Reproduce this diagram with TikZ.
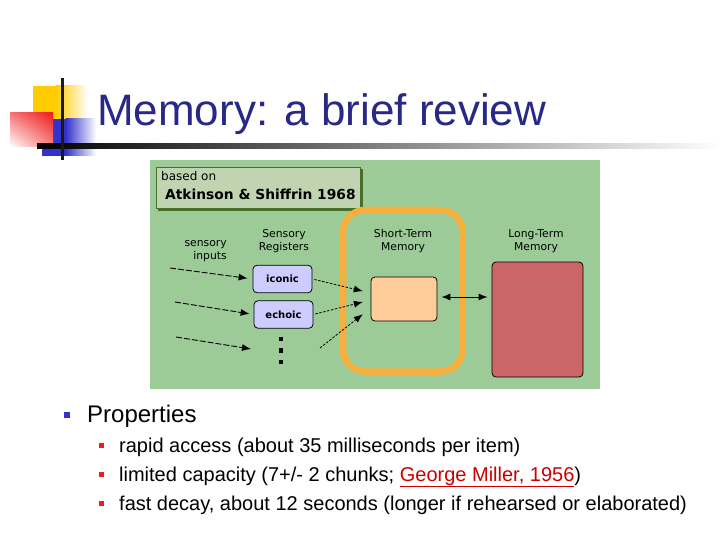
\documentclass[tikz,border=0pt]{standalone}
\usepackage{fontspec}
\setmainfont{Liberation Sans}
\newfontfamily\diagfont{DejaVu Sans}
\usetikzlibrary{arrows.meta,shadings}
\definecolor{ycol}{RGB}{255,204,0}
\definecolor{bcol}{RGB}{51,51,204}
\definecolor{rcol}{RGB}{238,30,30}
\definecolor{titlecol}{RGB}{40,40,135}
\definecolor{panelcol}{RGB}{156,203,152}
\definecolor{boxdark}{RGB}{72,110,40}
\definecolor{checkcol}{RGB}{192,212,178}
\definecolor{orangecol}{RGB}{245,175,60}
\definecolor{regcol}{RGB}{204,204,255}
\definecolor{stmcol}{RGB}{255,204,153}
\definecolor{ltmcol}{RGB}{204,102,102}
\definecolor{linkcol}{RGB}{204,0,0}
\begin{document}
\begin{tikzpicture}[x=1pt,y=-1pt,
  regbox/.style={draw=black, fill=regcol, rounded corners=4pt, line width=0.8pt, inner sep=0pt,
    minimum width=59pt, minimum height=27.5pt, font=\diagfont\bfseries\fontsize{10}{12}\selectfont},
  memlbl/.style={inner sep=0pt, align=center, font=\diagfont\fontsize{10.8}{12.5}\selectfont},
  tip/.style={-{Latex[length=9pt,width=7pt]}},
  inarrow/.style={tip, line width=0.9pt, dash pattern=on 6pt off 2pt},
  toarrow/.style={tip, line width=0.8pt, dash pattern=on 2.5pt off 1.5pt},
  bul/.style={inner sep=0pt, anchor=base west, font=\fontsize{20}{20}\selectfont},
  subsq/.style={fill=rcol, minimum size=5pt, inner sep=0pt}]
\useasboundingbox (0,0) rectangle (720,540);
% decoration
\fill[ycol] (33,86) rectangle (56,119);
\shade[left color=ycol, right color=white] (55.5,86) rectangle (88,119);
\fill[bcol] (42,119) rectangle (66,156);
\shade[left color=bcol, right color=white] (65.5,119) rectangle (96,156);
\shade[upper left=rcol!60!white, upper right=rcol, lower left=white, lower right=rcol!55!white] (10,113) rectangle (53,147);
\shade[left color=black, right color=white] (37,144) rectangle (720,148.5);
\fill[black!90] (60.8,78) rectangle (63.5,160);
% title
\node[anchor=base west, inner sep=0pt, text=titlecol, font=\fontsize{44}{44}\selectfont] (title) at (97,126) {Memory: a brief review};
% panel
\node[fill=panelcol, minimum width=450pt, minimum height=229pt, anchor=north west, inner sep=0pt] (panel) at (150,160) {};
\fill[boxdark] (158,169) rectangle (362.5,211);
\node[draw=boxdark, line width=1.2pt, fill=checkcol, anchor=north west, minimum width=204pt, minimum height=41pt, inner sep=0pt] (based) at (156,167) {};
\node[anchor=base west, inner sep=0pt, font=\diagfont\fontsize{12}{12}\selectfont] (basedon) at (161,181) {based on};
\node[anchor=base west, inner sep=0pt, font=\diagfont\bfseries\fontsize{13.8}{14}\selectfont] (atk) at (165,200) {Atkinson \& Shiffrin 1968};
% labels
\node[memlbl, align=right, anchor=east] (inlbl) at (227,251) {sensory\\inputs};
\node[memlbl] (reglbl) at (284,241) {Sensory\\Registers};
\node[memlbl] (stmlbl) at (403,241) {Short-Term\\Memory};
\node[memlbl] (ltmlbl) at (536,241) {Long-Term\\Memory};
% boxes
\node[regbox] (iconic) at (282.5,279) {iconic};
\node[regbox] (echoic) at (283.5,314.5) {echoic};
\foreach \i/\yy in {1/339,2/350.5,3/362}{
  \node[fill=black, minimum width=3.5pt, minimum height=4.5pt, inner sep=0pt] (dot\i) at (281,\yy) {};
}
\node[draw=orangecol, line width=6.5pt, rounded corners=22pt, minimum width=119.5pt, minimum height=161.5pt, inner sep=0pt] (frame) at (402.75,290.75) {};
\node[draw=black, fill=stmcol, rounded corners=4pt, line width=0.8pt, minimum width=66pt, minimum height=44pt, inner sep=0pt] (stm) at (404,299) {};
\node[draw=black, fill=ltmcol, rounded corners=4pt, line width=0.8pt, minimum width=91pt, minimum height=115pt, inner sep=0pt] (ltm) at (537.5,319.5) {};
% inputs
\coordinate (in1) at (170,268);
\coordinate (in2) at (175,302);
\coordinate (in3) at (176,337);
\coordinate (e3) at (251,349);
\draw[inarrow, shorten >=5pt] (in1) -- (iconic.west);
\draw[inarrow, shorten >=4pt] (in2) -- (echoic.west);
\draw[inarrow] (in3) -- (e3);
% to STM
\coordinate (d0) at (320,348);
\draw[toarrow, shorten <=2pt, shorten >=8pt] (iconic.east) -- ([yshift=6pt]stm.west);
\draw[toarrow, shorten <=2pt, shorten >=8pt] (echoic.east) -- ([yshift=-1pt]stm.west);
\draw[toarrow, shorten >=10pt] (d0) -- ([yshift=-9pt]stm.west);
% STM <-> LTM
\draw[{Latex[length=9pt,width=7pt]}-{Latex[length=9pt,width=7pt]}, line width=1pt, shorten <=4pt, shorten >=4pt] ([yshift=2pt]stm.east) -- ([yshift=2pt]stm.east -| ltm.west);
% bullets
\node[fill=bcol, minimum size=6pt, inner sep=0pt] (b0) at (67,415) {};
\node[inner sep=0pt, anchor=base west, font=\fontsize{24}{24}\selectfont] (prop) at (87,422.5) {Properties};
\node[subsq] (s1) at (101,445.5) {};
\node[subsq] (s2) at (101,474.5) {};
\node[subsq] (s3) at (101,503.5) {};
\node[bul] (t1) at (119,452) {rapid access (about 35 milliseconds per item)};
\node[bul] (t2) at (119,481) {limited capacity (7+/- 2 chunks; {\color{linkcol}\underline{George Miller, 1956}})};
\node[bul] (t3) at (119,510) {fast decay, about 12 seconds (longer if rehearsed or elaborated)};
\end{tikzpicture}
\end{document}
